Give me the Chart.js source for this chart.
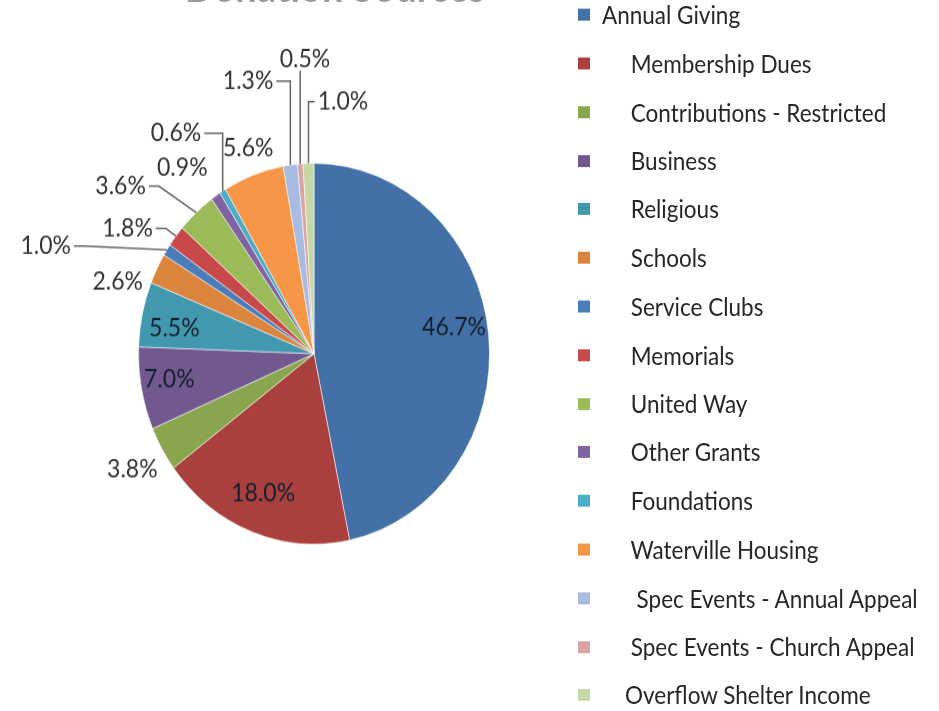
<!DOCTYPE html>
<html>
<head>
<meta charset="utf-8">
<title>Donation Sources</title>
<script src="https://cdn.jsdelivr.net/npm/chart.js@4/dist/chart.umd.min.js"></script>
<style>
  html, body { margin: 0; padding: 0; background: #fff; width: 939px; height: 711px; overflow: hidden; }
  #page {
    position: relative;
    width: 939px;
    height: 655px;
    transform: scaleY(1.085);
    transform-origin: 0 0;
    font-family: Lato, "Open Sans", sans-serif;
  }
  #title {
    position: absolute; left: 0; top: -31px; width: 670px;
    text-align: center; font: bold 38px/36px Lato, sans-serif; color: #9a9a9a;
  }
  #box { position: absolute; left: 0; top: 0; width: 560px; height: 652px; }
  #legend { position: absolute; left: 578px; top: -8.6px; margin: 0; padding: 0; list-style: none; }
  #legend li { height: 44.8px; display: flex; align-items: center; font-size: 22.5px; color: #262626; white-space: pre; }
  #legend i { display: inline-block; width: 12px; height: 11px; margin-right: 12px; }
</style>
</head>
<body>
<div id="page">
  <div id="title">Donation Sources</div>
  <div id="box"><canvas id="pie"></canvas></div>
  <ul id="legend"></ul>
</div>
<script>
// categories as they appear in the legend (leading spaces kept from the original)
const sources = [
  "Annual Giving",
  "     Membership Dues",
  "     Contributions - Restricted",
  "     Business",
  "     Religious",
  "     Schools",
  "     Service Clubs",
  "     Memorials",
  "     United Way",
  "     Other Grants",
  "     Foundations",
  "     Waterville Housing",
  "      Spec Events - Annual Appeal",
  "     Spec Events - Church Appeal",
  "    Overflow Shelter Income"
];
// share of donations, percent
const shares = [46.7, 18.0, 3.8, 7.0, 5.5, 2.6, 1.0, 1.8, 3.6, 0.9, 0.6, 5.6, 1.3, 0.5, 1.0];
const colors = [
  "#4370a6", "#a9403d", "#89a54e", "#71588f", "#4198af",
  "#db843d", "#4a7ebb", "#c8494a", "#9bbb59", "#8064a2",
  "#4bacc6", "#f79646", "#a8bbe0", "#dca3a3", "#c4d7a5"
];
// where each percentage label sits: [degrees clockwise from top, radius multiple]
const labelSpots = [
  [80.1, 0.81], [201.5, 0.79], [239.6, 1.2], [260.9, 0.835], [279.6, 0.807],
  [288.6, 1.18], [290.3, 1.63], [301.8, 1.25], [308.6, 1.41], [322.4, 1.23],
  [325.8, 1.40], [340.8, 1.14], [345.3, 1.48], [358.1, 1.55], [7.1, 1.334]
];

// LEGEND
const legend = document.getElementById("legend");
sources.forEach((s, i) => {
  const li = document.createElement("li");
  li.innerHTML = '<i style="background:' + colors[i] + '"></i><span></span>';
  li.querySelector("span").textContent = s;
  legend.appendChild(li);
});

// DRAWS THE PERCENT LABELS AND EXCEL STYLE LEADER LINES
const sliceLabels = {
  id: "sliceLabels",
  afterDatasetsDraw(chart) {
    const ctx = chart.ctx;
    const arcs = chart.getDatasetMeta(0).data;
    ctx.save();
    ctx.font = "23px Lato";
    ctx.textAlign = "center";
    ctx.textBaseline = "middle";
    arcs.forEach((arc, i) => {
      const p = arc.getProps(["x", "y", "outerRadius", "startAngle", "endAngle"], true);
      const a = labelSpots[i][0] * Math.PI / 180 - Math.PI / 2;
      const k = labelSpots[i][1];
      const lx = p.x + Math.cos(a) * p.outerRadius * k;
      const ly = p.y + Math.sin(a) * p.outerRadius * k;
      const text = shares[i].toFixed(1) + "%";
      const w = ctx.measureText(text).width, h = 16;
      ctx.fillStyle = k < 1 ? "#14202e" : "#333";
      ctx.fillText(text, lx, ly);
      if (k < 1) return;
      // edge point in the middle of the slice
      const mid = (p.startAngle + p.endAngle) / 2;
      const ex = p.x + Math.cos(mid) * p.outerRadius;
      const ey = p.y + Math.sin(mid) * p.outerRadius;
      const nx = Math.max(lx - w / 2, Math.min(ex, lx + w / 2));
      const ny = Math.max(ly - h / 2, Math.min(ey, ly + h / 2));
      if (Math.hypot(ex - nx, ey - ny) < 22) return;
      ctx.strokeStyle = "#666";
      ctx.lineWidth = 1.5;
      ctx.beginPath();
      if (ex > lx - w / 2 && ex < lx + w / 2) {
        ctx.moveTo(ex, ly + h / 2 + 3);
        ctx.lineTo(ex, ey);
      } else {
        const dir = ex > lx ? 1 : -1;
        const ax = lx + dir * (w / 2 + 3);
        const elbow = Math.abs(ex - ax) > Math.abs(ey - ly) ? ax + dir * 10 : ex;
        ctx.moveTo(ax, ly);
        ctx.lineTo(elbow, ly);
        ctx.lineTo(ex, ey);
      }
      ctx.stroke();
    });
    ctx.restore();
  }
};

new Chart(document.getElementById("pie"), {
  type: "pie",
  data: {
    labels: sources.map(s => s.trim()),
    datasets: [{
      data: shares,
      backgroundColor: colors,
      borderColor: "rgba(255,255,255,0.55)",
      borderWidth: 1,
      hoverOffset: 0
    }]
  },
  options: {
    responsive: true,
    maintainAspectRatio: false,
    animation: false,
    layout: { padding: { left: 138, right: 70, top: 150, bottom: 150 } },
    plugins: { legend: { display: false }, title: { display: false }, tooltip: { enabled: false } }
  },
  plugins: [sliceLabels]
});
</script>
</body>
</html>
